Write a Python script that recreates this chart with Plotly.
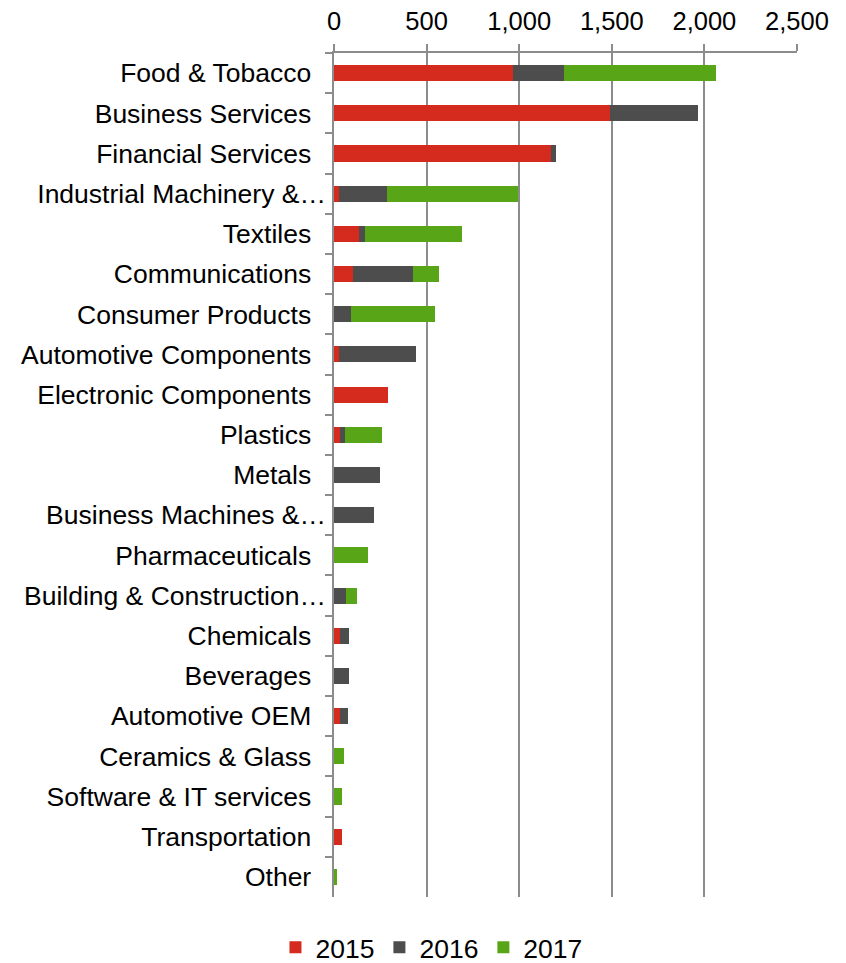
import plotly.graph_objects as go

NBSP2 = "\u00a0\u00a0"

categories = [
    "Food & Tobacco" + NBSP2, "Business Services" + NBSP2, "Financial Services" + NBSP2,
    "Industrial Machinery &\u2026", "Textiles" + NBSP2, "Communications" + NBSP2,
    "Consumer Products" + NBSP2, "Automotive Components" + NBSP2,
    "Electronic Components" + NBSP2, "Plastics" + NBSP2, "Metals" + NBSP2,
    "Business Machines &\u2026", "Pharmaceuticals" + NBSP2,
    "Building & Construction\u2026", "Chemicals" + NBSP2, "Beverages" + NBSP2,
    "Automotive OEM" + NBSP2, "Ceramics & Glass" + NBSP2,
    "Software & IT services" + NBSP2, "Transportation" + NBSP2, "Other" + NBSP2,
]

values_2015 = [964, 1490, 1171, 25, 137, 103, 0, 27, 291, 31, 0, 0, 0, 0, 31, 0, 34, 0, 0, 42, 0]
values_2016 = [279, 473, 27, 263, 30, 323, 90, 417, 0, 28, 250, 218, 0, 66, 48, 79, 40, 0, 0, 0, 0]
values_2017 = [818, 0, 0, 707, 524, 141, 457, 0, 0, 198, 0, 0, 185, 60, 0, 0, 0, 56, 45, 0, 15]

x_ticks = [0, 500, 1000, 1500, 2000, 2500]
x_tick_labels = ["0", "500", "1,000", "1,500", "2,000", "2,500"]

series = [
    ("2015", values_2015, "#D52B1E"),
    ("2016", values_2016, "#4D4D4D"),
    ("2017", values_2017, "#58A618"),
]

fig = go.Figure()
for name, vals, color in series:
    fig.add_trace(go.Bar(
        y=categories, x=vals, name=name, orientation="h",
        marker=dict(color=color, line=dict(width=0)),
    ))

grid_color = "#8C8C8C"
font_family = "Liberation Sans, Arial, sans-serif"

fig.update_layout(
    barmode="stack",
    bargap=0.6,
    width=846, height=963,
    margin=dict(l=334, r=49, t=53, b=66, autoexpand=False),
    paper_bgcolor="white", plot_bgcolor="white",
    font=dict(family=font_family, size=26.5, color="#000000"),
    xaxis=dict(
        side="top", range=[0, 2500],
        tickvals=x_ticks, ticktext=x_tick_labels,
        showgrid=True, gridcolor=grid_color, gridwidth=1.5,
        showline=True, linecolor=grid_color, linewidth=1.5,
        ticks="outside", ticklen=7, tickcolor=grid_color, tickwidth=1.5,
        zeroline=False, automargin=False,
        tickfont=dict(size=25.5),
        ticklabelstandoff=4,
    ),
    yaxis=dict(
        autorange="reversed", automargin=False,
        showline=True, linecolor=grid_color, linewidth=1.5,
        ticks="outside", tickson="boundaries", ticklen=7,
        tickcolor=grid_color, tickwidth=1.5,
        showgrid=False,
        tickfont=dict(size=26.5),
        ticklabelstandoff=1,
    ),
    legend=dict(
        orientation="h",
        xref="container", yref="container",
        x=0.510, xanchor="center", y=0.016, yanchor="middle",
        font=dict(size=26.5), itemwidth=30,
        traceorder="normal",
    ),
)

fig.write_html("out.html")
